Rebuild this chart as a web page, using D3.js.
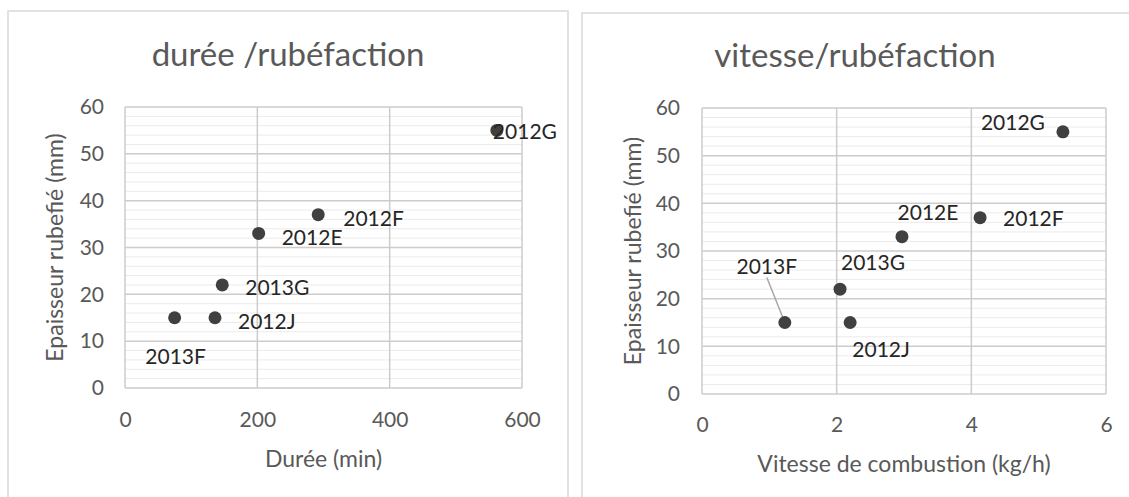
<!DOCTYPE html>
<html>
<head>
<meta charset="utf-8">
<script src="https://cdn.jsdelivr.net/npm/d3@7"></script>
<style>
  html, body { margin: 0; padding: 0; background: #ffffff; }
  svg { display: block; }
  text { font-family: Lato, "Open Sans", sans-serif; }
</style>
</head>
<body>
<svg id="chart" width="1129" height="497"></svg>
<script>
// ---------- data ----------
const sampleNames = ["2013F", "2012J", "2013G", "2012E", "2012F", "2012G"];
const dureeMin = [75, 136, 147, 202, 292, 562];
const vitesseKgH = [1.23, 2.2, 2.05, 2.97, 4.13, 5.36];
const epaisseurMm = [15, 15, 22, 33, 37, 55];

const yTicks = [0, 10, 20, 30, 40, 50, 60];
const yMinorStep = 2;
const xTicksDuree = [0, 200, 400, 600];
const xTicksVitesse = [0, 2, 4, 6];

const titleDuree = "durée /rubéfaction";
const titleVitesse = "vitesse/rubéfaction";
const xTitleDuree = "Durée (min)";
const xTitleVitesse = "Vitesse de combustion (kg/h)";
const yTitle = "Epaisseur rubefié (mm)";

// ---------- layout (pixel offsets of the data labels, not data) ----------
const labelLayoutDuree = [
  {dx: 1, dy: 38, anchor: "middle"},
  {dx: 23, dy: 3, anchor: "start"},
  {dx: 23, dy: 2, anchor: "start"},
  {dx: 23, dy: 3, anchor: "start"},
  {dx: 25, dy: 3, anchor: "start"},
  {dx: -4, dy: 0, anchor: "start"}
];
const labelLayoutVitesse = [
  {dx: -18, dy: -57, anchor: "middle", leader: true},
  {dx: 31, dy: 26, anchor: "middle"},
  {dx: 33, dy: -28, anchor: "middle"},
  {dx: 26, dy: -25, anchor: "middle"},
  {dx: 23, dy: 0, anchor: "start"},
  {dx: -50, dy: -10, anchor: "middle"}
];

const svg = d3.select("#chart");

const COL_BORDER = "#d9d9d9";
const COL_GRID = "#cfcbcb";
const COL_MINOR = "#ebebeb";
const COL_TEXT = "#595959";
const COL_LABEL = "#262626";
const COL_POINT = "#404040";

function drawChart(cfg) {
  const g = svg.append("g");
  g.append("rect")
    .attr("x", cfg.frame[0]).attr("y", cfg.frame[1])
    .attr("width", cfg.frame[2]).attr("height", cfg.frame[3])
    .attr("fill", "#fff").attr("stroke", COL_BORDER).attr("stroke-width", 1.5);

  const x = d3.scaleLinear().domain(cfg.xDomain).range([cfg.plot.left, cfg.plot.right]);
  const y = d3.scaleLinear().domain([0, 60]).range([cfg.plot.bottom, cfg.plot.top]);

  const minor = d3.range(0, 60 + 0.001, yMinorStep).filter(v => !yTicks.includes(v));
  g.append("g").selectAll("line").data(minor).join("line")
    .attr("x1", cfg.plot.left).attr("x2", cfg.plot.right)
    .attr("y1", d => y(d)).attr("y2", d => y(d))
    .attr("stroke", COL_MINOR).attr("stroke-width", 1);

  g.append("g").selectAll("line").data(yTicks).join("line")
    .attr("x1", cfg.plot.left).attr("x2", cfg.plot.right)
    .attr("y1", d => y(d)).attr("y2", d => y(d))
    .attr("stroke", COL_GRID).attr("stroke-width", 1.5);
  g.append("g").selectAll("line").data(cfg.xTicks).join("line")
    .attr("x1", d => x(d)).attr("x2", d => x(d))
    .attr("y1", cfg.plot.top).attr("y2", cfg.plot.bottom)
    .attr("stroke", COL_GRID).attr("stroke-width", 1.5);

  const yAxis = g.append("g")
    .attr("transform", `translate(${cfg.plot.left},0)`)
    .call(d3.axisLeft(y).tickValues(yTicks).tickFormat(d3.format("d")).tickSize(0).tickPadding(cfg.yPad));
  yAxis.select(".domain").remove();
  yAxis.selectAll("text").attr("fill", COL_TEXT).style("font-size", "21px")
    .style("font-family", "Lato, sans-serif");

  const xAxis = g.append("g")
    .attr("transform", `translate(0,${cfg.plot.bottom})`)
    .call(d3.axisBottom(x).tickValues(cfg.xTicks).tickFormat(d3.format("d")).tickSize(0).tickPadding(cfg.xPad));
  xAxis.select(".domain").remove();
  xAxis.selectAll("text").attr("fill", COL_TEXT).style("font-size", "21px")
    .style("font-family", "Lato, sans-serif");

  g.append("text")
    .attr("x", cfg.titlePos[0]).attr("y", cfg.titlePos[1])
    .attr("text-anchor", "middle").attr("fill", COL_TEXT)
    .style("font-size", "33px").text(cfg.title);
  g.append("text")
    .attr("x", (cfg.plot.left + cfg.plot.right) / 2).attr("y", cfg.xTitleY)
    .attr("text-anchor", "middle").attr("dominant-baseline", "central")
    .attr("fill", COL_TEXT).style("font-size", "23px").text(cfg.xTitle);
  g.append("text")
    .attr("transform", `translate(${cfg.yTitleX},${(cfg.plot.top + cfg.plot.bottom) / 2}) rotate(-90)`)
    .attr("text-anchor", "middle").attr("dominant-baseline", "central")
    .attr("fill", COL_TEXT).style("font-size", "23px").text(yTitle);

  const pts = sampleNames.map((n, i) => ({name: n, xv: cfg.xValues[i], yv: epaisseurMm[i], lay: cfg.layout[i]}));

  g.append("g").selectAll("line").data(pts.filter(p => p.lay.leader)).join("line")
    .attr("x1", p => x(p.xv) + p.lay.dx).attr("y1", p => y(p.yv) + p.lay.dy + 12)
    .attr("x2", p => x(p.xv) - 2).attr("y2", p => y(p.yv) - 5)
    .attr("stroke", "#a6a6a6").attr("stroke-width", 1.5);

  g.append("g").selectAll("circle").data(pts).join("circle")
    .attr("cx", p => x(p.xv)).attr("cy", p => y(p.yv)).attr("r", 6.5)
    .attr("fill", COL_POINT);

  g.append("g").selectAll("text").data(pts).join("text")
    .attr("x", p => x(p.xv) + p.lay.dx).attr("y", p => y(p.yv) + p.lay.dy)
    .attr("text-anchor", p => p.lay.anchor).attr("dominant-baseline", "central")
    .attr("fill", COL_LABEL).style("font-size", "21px").text(p => p.name);
}

drawChart({
  frame: [8, 11, 560, 500],
  plot: {left: 125, right: 522, top: 107, bottom: 388},
  xDomain: [0, 600], xTicks: xTicksDuree, xValues: dureeMin,
  yPad: 21, xPad: 24,
  title: titleDuree, titlePos: [288, 66],
  xTitle: xTitleDuree, xTitleY: 458, yTitleX: 54,
  layout: labelLayoutDuree
});

drawChart({
  frame: [582, 13, 560, 500],
  plot: {left: 702, right: 1106, top: 108, bottom: 394},
  xDomain: [0, 6], xTicks: xTicksVitesse, xValues: vitesseKgH,
  yPad: 22, xPad: 23,
  title: titleVitesse, titlePos: [855, 67],
  xTitle: xTitleVitesse, xTitleY: 463, yTitleX: 632,
  layout: labelLayoutVitesse
});
</script>
</body>
</html>
